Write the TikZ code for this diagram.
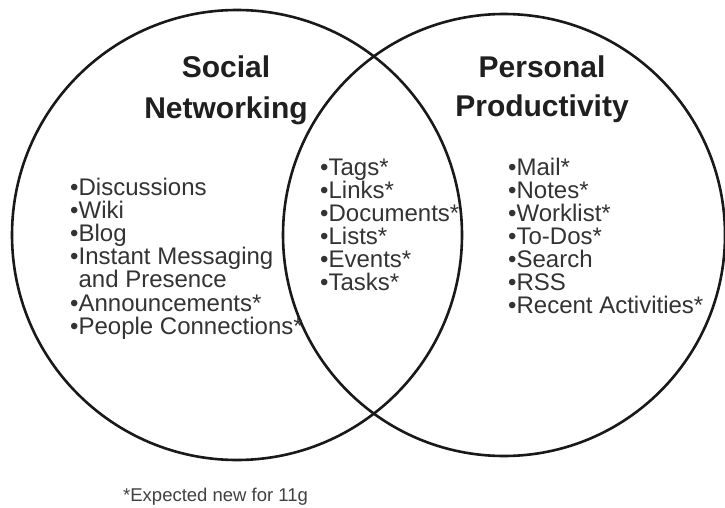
\documentclass[tikz,border=0pt]{standalone}
\usepackage{fontspec}
\setmainfont{Liberation Sans}
\begin{document}
\begin{tikzpicture}[x=1pt,y=-1pt,
  ring/.style={draw=black!90, line width=2.6pt},
  title/.style={font=\fontsize{30}{40}\selectfont\bfseries, text=black!88, align=center, inner sep=0pt},
  item/.style={font=\fontsize{24}{24}\selectfont, text=black!80, anchor=base west, inner sep=0pt},
  note/.style={font=\fontsize{18.5}{19}\selectfont, text=black!75, anchor=base west, inner sep=0pt}]
\useasboundingbox (0,0) rectangle (725,508);
\fill[white] (0,0) rectangle (725,508);
\draw[ring] (237,235) circle[radius=225];
\draw[ring] (504,235) circle[radius=221];
% titles
\node[title, anchor=base] (t1a) at (226,78) {Social};
\node[title, anchor=base] (t1b) at (226,118) {Networking};
\node[title, anchor=base] (t2a) at (542,78) {Personal};
\node[title, anchor=base] (t2b) at (542,117) {Productivity};
% left list
\foreach \t [count=\i] in {•Discussions,•Wiki,•Blog,•Instant Messaging,\phantom{•}and Presence,•Announcements*,•People Connections*}
  \node[item] (l\i) at (70,{195+23.2*(\i-1)}) {\t};
% middle list
\foreach \t [count=\i] in {•Tags*,•Links*,•Documents*,•Lists*,•Events*,•Tasks*}
  \node[item] (m\i) at (320,{175+23*(\i-1)}) {\t};
% right list
\foreach \t [count=\i] in {•Mail*,•Notes*,•Worklist*,•To-Dos*,•Search,•RSS,•Recent Activities*}
  \node[item] (r\i) at (508,{175+23*(\i-1)}) {\t};
\node[note] (fn) at (123,501) {*Expected new for 11g};
\end{tikzpicture}
\end{document}
